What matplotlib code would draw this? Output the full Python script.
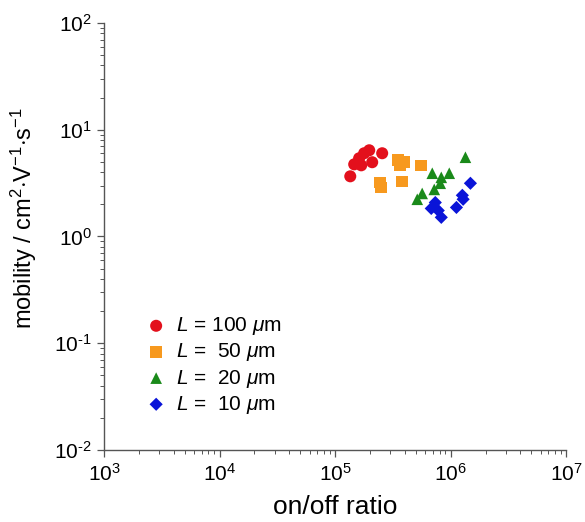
import matplotlib
matplotlib.use("Agg")
import matplotlib.pyplot as plt
from matplotlib.ticker import LogLocator, FixedLocator, NullFormatter

plt.rcParams['font.family'] = ['Liberation Sans', 'DejaVu Sans']
plt.rcParams['mathtext.fontset'] = 'custom'
plt.rcParams['mathtext.rm'] = 'Liberation Sans'
plt.rcParams['mathtext.it'] = 'Liberation Sans:italic'

# on/off ratio and mobility
onoff_100 = [1.35e5, 1.46e5, 1.61e5, 1.68e5, 1.78e5, 1.97e5, 2.09e5, 2.55e5]
mob_100 = [3.66, 4.74, 5.40, 4.64, 6.02, 6.42, 4.96, 6.02]

onoff_50 = [2.45e5, 2.50e5, 3.51e5, 3.65e5, 3.96e5, 3.80e5, 5.56e5]
mob_50 = [3.21, 2.88, 5.17, 4.64, 4.96, 3.28, 4.64]

onoff_20 = [1.34e6, 6.92e5, 8.28e5, 9.71e5, 8.11e5, 7.20e5, 5.66e5, 5.13e5]
mob_20 = [5.52, 3.91, 3.58, 3.91, 3.15, 2.76, 2.53, 2.23]

onoff_10 = [1.48e6, 1.26e6, 1.28e6, 1.12e6, 7.35e5, 6.78e5, 7.80e5, 8.28e5]
mob_10 = [3.15, 2.43, 2.23, 1.87, 2.08, 1.83, 1.75, 1.51]

labels = [r'$L$ = 100 $\mu$m', r'$L$ =  50 $\mu$m', r'$L$ =  20 $\mu$m', r'$L$ =  10 $\mu$m']
x_ticks = [1e3, 1e4, 1e5, 1e6, 1e7]
x_ticklabels = ['10$^{3}$', '10$^{4}$', '10$^{5}$', '10$^{6}$', '10$^{7}$']
y_ticks = [1e-2, 1e-1, 1e0, 1e1, 1e2]
y_ticklabels = ['10$^{\\text{-}2}$', '10$^{\\text{-}1}$', '10$^{0}$', '10$^{1}$', '10$^{2}$']

fig = plt.figure(figsize=(5.85, 5.22), dpi=100)
ax = fig.add_axes([0.178, 0.138, 0.790, 0.818])

ax.scatter(onoff_100, mob_100, marker='o', s=75, color='#e3101c', edgecolors='none', label=labels[0])
ax.scatter(onoff_50, mob_50, marker='s', s=70, color='#f7991e', edgecolors='none', label=labels[1])
ax.scatter(onoff_20, mob_20, marker='^', s=70, color='#1a8a1a', edgecolors='none', label=labels[2])
ax.scatter(onoff_10, mob_10, marker='D', s=45, color='#0a14d8', edgecolors='none', label=labels[3])

ax.set_xscale('log')
ax.set_yscale('log')
ax.set_xlim(1e3, 1e7)
ax.set_ylim(1e-2, 1e2)

ax.xaxis.set_major_locator(FixedLocator(x_ticks))
ax.set_xticklabels(x_ticklabels)
ax.yaxis.set_major_locator(FixedLocator(y_ticks))
ax.set_yticklabels(y_ticklabels)
ax.xaxis.set_minor_locator(LogLocator(base=10, subs=range(2, 10)))
ax.yaxis.set_minor_locator(LogLocator(base=10, subs=range(2, 10)))
ax.xaxis.set_minor_formatter(NullFormatter())
ax.yaxis.set_minor_formatter(NullFormatter())

for s in ['top', 'right']:
    ax.spines[s].set_visible(False)
for s in ['left', 'bottom']:
    ax.spines[s].set_color('#555555')
    ax.spines[s].set_linewidth(1.0)

ax.tick_params(which='major', direction='out', length=5, width=0.9, color='#555555', labelsize=15, pad=4)
ax.tick_params(which='minor', direction='out', length=3, width=0.7, color='#555555')

ax.set_xlabel('on/off ratio', fontsize=19, labelpad=8)
ax.set_ylabel(r'mobility / cm$^2$$\cdot$V$^{-1}$$\cdot$s$^{-1}$', fontsize=17)
ax.yaxis.set_label_coords(-0.14, 0.543)

ax.legend(loc='upper left', bbox_to_anchor=(0.072, 0.335), frameon=False, fontsize=15,
          handlelength=1.0, handletextpad=0.45, labelspacing=0.2, borderaxespad=0,
          scatterpoints=1)

fig.savefig('out.png', dpi=100)
